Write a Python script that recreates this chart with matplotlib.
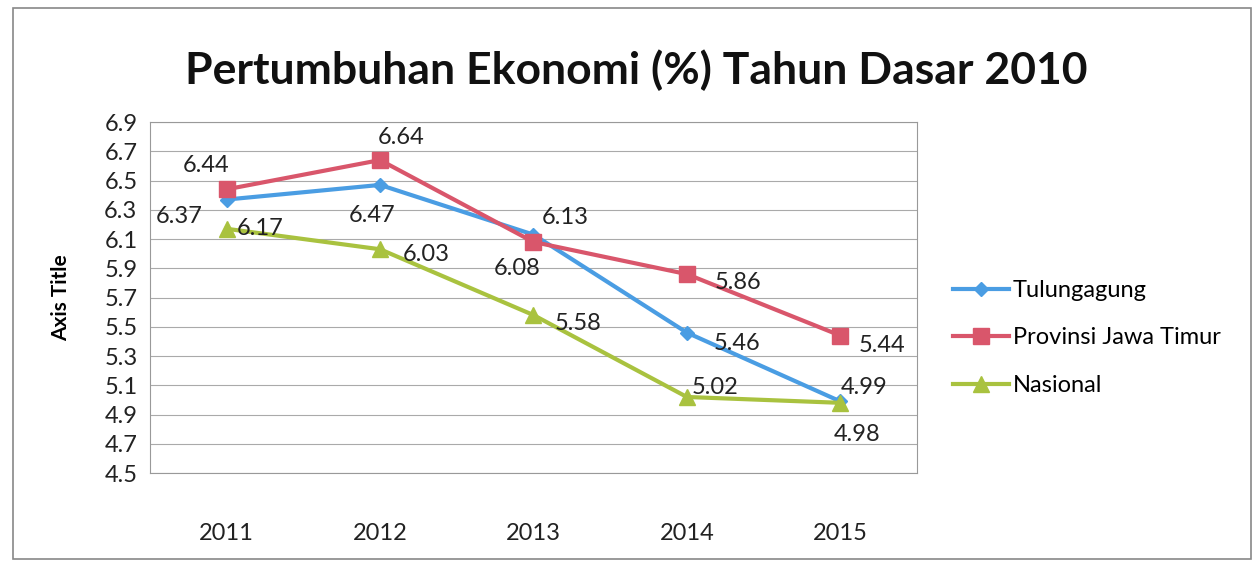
import numpy as np
import matplotlib
matplotlib.use("Agg")
from matplotlib import pyplot as plt
from matplotlib.patches import Rectangle

years = ["2011", "2012", "2013", "2014", "2015"]
tulungagung = [6.37, 6.47, 6.13, 5.46, 4.99]
jatim = [6.44, 6.64, 6.08, 5.86, 5.44]
nasional = [6.17, 6.03, 5.58, 5.02, 4.98]
series_names = ["Tulungagung", "Provinsi Jawa Timur", "Nasional"]

# label offsets in points (scan placement)
off_tul = [(-34, -12), (-6, -22), (23, 12), (36, -8), (17, 10)]
off_jat = [(-15, 17), (15, 16), (-12, -19), (37, -6), (30, -7)]
off_nas = [(24, 0), (33, -4), (32, -6), (20, 7), (12, -23)]

plt.rcParams['font.family'] = ['Lato', 'DejaVu Sans']

fig = plt.figure(figsize=(12.57, 5.65), dpi=100)
ax = fig.add_axes([0.1193, 0.1628, 0.6102, 0.6212])

ind = np.arange(len(years))
colors = ['#4a9de3', '#d9566b', '#a9c23f']
markers = ['D', 's', '^']
msizes = [7, 11, 11]
data = [tulungagung, jatim, nasional]
offsets = [off_tul, off_jat, off_nas]

lines = []
for vals, c, m, ms, name in zip(data, colors, markers, msizes, series_names):
    l, = ax.plot(ind, vals, color=c, lw=3, marker=m, markersize=ms, label=name, zorder=3)
    lines.append(l)

for vals, offs in zip(data, offsets):
    for i, v in enumerate(vals):
        ax.annotate("%.2f" % v, (ind[i], v), xytext=offs[i], textcoords='offset points',
                    ha='center', va='center', fontsize=17, color='#222222', zorder=4)

ax.set_xlim(-0.5, 4.5)
ax.set_ylim(4.5, 6.9)
ax.set_yticks(np.arange(4.5, 6.91, 0.2))
ax.set_yticklabels(["%.1f" % t for t in np.arange(4.5, 6.91, 0.2)], fontsize=17, color='#222222')
ax.set_xticks(ind)
ax.set_xticklabels(years, fontsize=17, color='#222222')
ax.tick_params(axis='both', length=0)
ax.tick_params(axis='x', pad=36)
ax.tick_params(axis='y', pad=9)
ax.grid(axis='y', color='#aaaaaa', lw=0.8)
ax.set_axisbelow(True)
for s in ax.spines.values():
    s.set_color('#999999')
    s.set_linewidth(0.8)

ax.set_ylabel('Axis Title', fontsize=15, fontweight='bold', labelpad=24)

fig.text(0.506, 0.876, 'Pertumbuhan Ekonomi (%) Tahun Dasar 2010', ha='center', va='center',
         fontsize=32, fontweight='bold', color='#111111')

fig.legend(handles=lines, loc='center left', bbox_to_anchor=(0.758, 0.402), frameon=False,
           fontsize=17, handlelength=2.4, labelspacing=1.12, handletextpad=0.15,
           borderpad=0, borderaxespad=0)

fig.patches.append(Rectangle((0.010, 0.01), 0.985, 0.975, transform=fig.transFigure,
                             fill=False, edgecolor='#888888', lw=1.2))

plt.savefig("out.png", dpi=100)
